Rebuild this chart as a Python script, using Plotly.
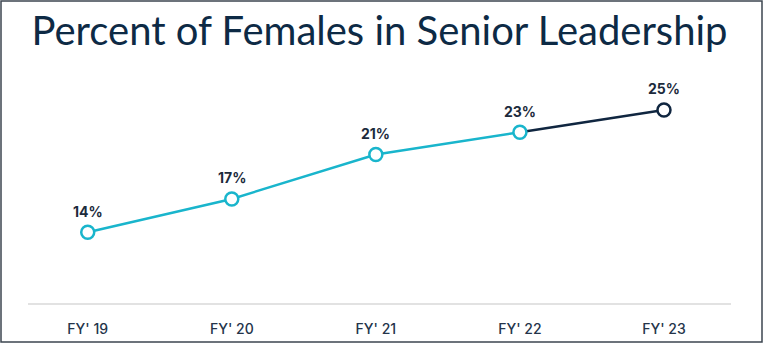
import plotly.graph_objects as go

categories = ["FY' 19", "FY' 20", "FY' 21", "FY' 22", "FY' 23"]
values = [14, 17, 21, 23, 25]
labels = ["14%", "17%", "21%", "23%", "25%"]

CYAN = "#19b5cc"
NAVY = "#102640"
W, H = 763, 343
L, R, T, B = 28, 32, 80, 40
pw, ph = W - L - R, H - T - B
PX_PER_UNIT = 11.12
Y0 = 7.64

x = list(range(len(categories)))
fig = go.Figure()
fig.add_trace(go.Scatter(x=x[:4], y=values[:4], mode="lines",
                         line=dict(color=CYAN, width=2.5), hoverinfo="skip"))
fig.add_trace(go.Scatter(x=x[3:], y=values[3:], mode="lines",
                         line=dict(color=NAVY, width=2.5), hoverinfo="skip"))
marker_colors = [CYAN] * 4 + [NAVY]
fig.add_trace(go.Scatter(
    x=x, y=values, mode="markers",
    marker=dict(size=13, color="white", line=dict(color=marker_colors, width=2.5)),
))

for xi, v, lab in zip(x, values, labels):
    fig.add_annotation(x=xi, y=v, text=lab, showarrow=False, yshift=21,
                       yanchor="middle", xanchor="center",
                       font=dict(family="Inter, Roboto, sans-serif", size=14,
                                 color="#1c2b3c", weight="bold"))

fig.update_layout(
    width=W, height=H,
    margin=dict(l=L, r=R, t=T, b=B, autoexpand=False),
    paper_bgcolor="white", plot_bgcolor="white",
    showlegend=False,
    title=dict(text="Percent of Females in Senior Leadership",
               x=0.5, xref="paper", xanchor="center", y=1 - 31 / H, yanchor="middle",
               font=dict(family="Lato, sans-serif", size=40, color="#0d2a45", weight=400)),
    xaxis=dict(range=[-(87.7 - L) / 144, 4 + (W - R - 664) / 144],
               tickmode="array", tickvals=x, ticktext=categories,
               showgrid=False, zeroline=False, showline=True, automargin=False,
               linecolor="#e2e2e2", linewidth=2, ticks="", ticklabelstandoff=12,
               tickfont=dict(family="Inter, Roboto, sans-serif", size=14, color="#24344a",
                             weight=500)),
    yaxis=dict(range=[Y0, Y0 + ph / PX_PER_UNIT], visible=False, automargin=False),
    shapes=[dict(type="rect", xref="paper", yref="paper",
                 x0=-(L - 1) / pw, x1=1 + (R - 1) / pw,
                 y0=-(B - 1) / ph, y1=1 + (T - 1) / ph,
                 line=dict(color="#3c4650", width=1.5))],
)

fig.write_html("out.html")
